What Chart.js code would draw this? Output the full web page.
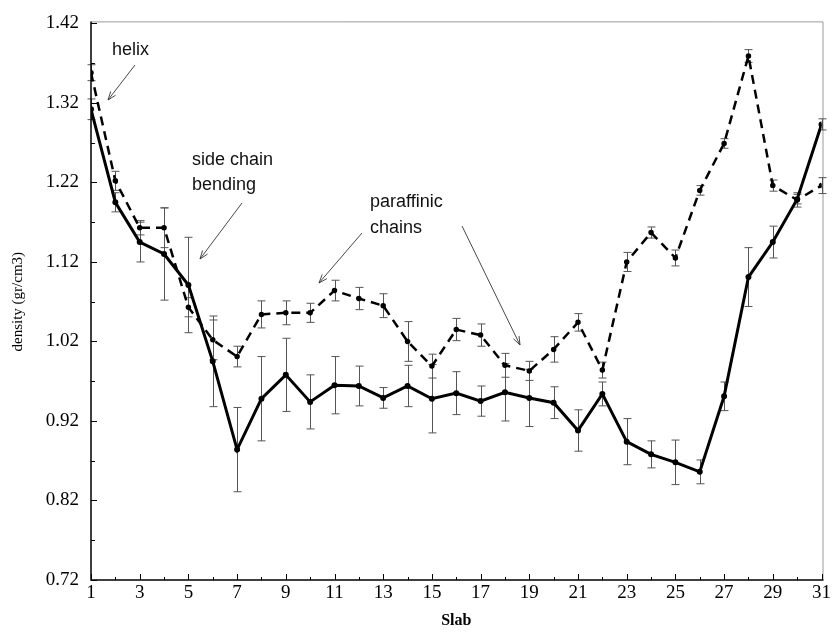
<!DOCTYPE html>
<html>
<head>
<meta charset="utf-8">
<script src="https://cdn.jsdelivr.net/npm/chart.js@4.4.1/dist/chart.umd.min.js"></script>
<style>
  html, body { margin: 0; padding: 0; background: #fff; }
  #wrap { width: 833px; height: 632px; }
</style>
</head>
<body>
<div id="wrap"><canvas id="densityChart" width="833" height="632"></canvas></div>
<script>
'use strict'

// slab index along the membrane normal
var slabs = [1, 2, 3, 4, 5, 6, 7, 8, 9, 10, 11, 12, 13, 14, 15, 16, 17, 18, 19, 20, 21, 22, 23, 24, 25, 26, 27, 28, 29, 30, 31]

// solid curve
var solidDensity = [1.312, 1.195, 1.145, 1.130, 1.091, 0.995, 0.884, 0.948, 0.978, 0.944, 0.965, 0.964, 0.949, 0.964, 0.948, 0.955, 0.945, 0.956, 0.949, 0.943, 0.908, 0.954, 0.894, 0.878, 0.868, 0.856, 0.951, 1.101, 1.145, 1.199, 1.293]
var solidError = [0.013, 0.012, 0.025, 0.058, 0.060, 0.057, 0.053, 0.053, 0.046, 0.034, 0.036, 0.025, 0.013, 0.026, 0.043, 0.027, 0.019, 0.036, 0.036, 0.020, 0.026, 0.015, 0.029, 0.017, 0.028, 0.015, 0.018, 0.037, 0.020, 0.006, 0.007]

// dashed curve
var dashedDensity = [1.358, 1.222, 1.163, 1.163, 1.063, 1.022, 1.001, 1.054, 1.056, 1.056, 1.084, 1.074, 1.065, 1.020, 0.989, 1.035, 1.028, 0.990, 0.983, 1.010, 1.044, 0.984, 1.120, 1.157, 1.125, 1.210, 1.269, 1.379, 1.216, 1.198, 1.216]
var dashedError = [0.010, 0.012, 0.009, 0.025, 0.012, 0.025, 0.013, 0.017, 0.015, 0.012, 0.013, 0.014, 0.015, 0.025, 0.015, 0.014, 0.014, 0.015, 0.012, 0.016, 0.011, 0.010, 0.012, 0.007, 0.010, 0.006, 0.006, 0.008, 0.007, 0.009, 0.010]

// tick labels
var xTicks = [1, 3, 5, 7, 9, 11, 13, 15, 17, 19, 21, 23, 25, 27, 29, 31]
var xMinorTicks = [2, 4, 6, 8, 10, 12, 14, 16, 18, 20, 22, 24, 26, 28, 30]
var yTicks = [0.72, 0.82, 0.92, 1.02, 1.12, 1.22, 1.32, 1.42]
var yMinorTicks = [0.77, 0.87, 0.97, 1.07, 1.17, 1.27, 1.37]

function toPoints(ys) {
    return slabs.map(function (s, i) { return { x: s, y: ys[i] } })
}

//-------------------
//- ERROR BARS, FRAME, TICKS, NOTES -
//-------------------
var extrasPlugin = {
    id: 'extras',
    beforeDatasetsDraw: function (chart) {
        var ctx = chart.ctx
        var xs = chart.scales.x
        var ys = chart.scales.y
        var a = chart.chartArea

        // gray frame on top/right
        ctx.save()
        ctx.strokeStyle = '#9a9a9a'
        ctx.lineWidth = 1
        ctx.beginPath()
        ctx.moveTo(a.left, a.top - 1.5)
        ctx.lineTo(a.right + 1.5, a.top - 1.5)
        ctx.lineTo(a.right + 1.5, a.bottom)
        ctx.stroke()

        // error bars
        ctx.strokeStyle = '#555'
        ctx.lineWidth = 1
        var sets = [[solidDensity, solidError], [dashedDensity, dashedError]]
        sets.forEach(function (set) {
            slabs.forEach(function (s, i) {
                var px = Math.round(xs.getPixelForValue(s)) + 0.5
                var top = ys.getPixelForValue(set[0][i] + set[1][i])
                var bot = ys.getPixelForValue(set[0][i] - set[1][i])
                ctx.beginPath()
                ctx.moveTo(px, top)
                ctx.lineTo(px, bot)
                ctx.moveTo(px - 4, top)
                ctx.lineTo(px + 4, top)
                ctx.moveTo(px - 4, bot)
                ctx.lineTo(px + 4, bot)
                ctx.stroke()
            })
        })

        // axes with inward ticks
        ctx.strokeStyle = '#000'
        ctx.lineWidth = 1.5
        ctx.beginPath()
        ctx.moveTo(a.left, a.top - 2)
        ctx.lineTo(a.left, a.bottom)
        ctx.lineTo(a.right + 2, a.bottom)
        ctx.stroke()
        ctx.lineWidth = 1
        ctx.beginPath()
        yTicks.forEach(function (v) {
            var py = Math.round(ys.getPixelForValue(v)) + 0.5
            ctx.moveTo(a.left, py)
            ctx.lineTo(a.left + 6, py)
        })
        yMinorTicks.forEach(function (v) {
            var py = Math.round(ys.getPixelForValue(v)) + 0.5
            ctx.moveTo(a.left, py)
            ctx.lineTo(a.left + 4, py)
        })
        xTicks.forEach(function (v) {
            var px = Math.round(xs.getPixelForValue(v)) + 0.5
            ctx.moveTo(px, a.bottom)
            ctx.lineTo(px, a.bottom - 6)
        })
        xMinorTicks.forEach(function (v) {
            var px = Math.round(xs.getPixelForValue(v)) + 0.5
            ctx.moveTo(px, a.bottom)
            ctx.lineTo(px, a.bottom - 3)
        })
        ctx.stroke()
        ctx.restore()
    },
    afterDraw: function (chart) {
        var ctx = chart.ctx
        ctx.save()
        ctx.fillStyle = '#111'
        ctx.font = '18px "Liberation Sans", Arial, sans-serif'
        ctx.textBaseline = 'middle'
        ctx.textAlign = 'left'
        ctx.fillText('helix', 112, 50)
        ctx.fillText('side chain', 192, 160)
        ctx.fillText('bending', 192, 185)
        ctx.fillText('paraffinic', 370, 202)
        ctx.fillText('chains', 370, 228)

        var arrows = [
            [135, 65, 108, 100],
            [242, 203, 200, 259],
            [362, 233, 319, 283],
            [462, 226, 520, 345]
        ]
        ctx.strokeStyle = '#333'
        ctx.lineWidth = 0.9
        arrows.forEach(function (ar) {
            var ang = Math.atan2(ar[3] - ar[1], ar[2] - ar[0])
            ctx.beginPath()
            ctx.moveTo(ar[0], ar[1])
            ctx.lineTo(ar[2], ar[3])
            ctx.moveTo(ar[2] - 9 * Math.cos(ang - 0.35), ar[3] - 9 * Math.sin(ang - 0.35))
            ctx.lineTo(ar[2], ar[3])
            ctx.lineTo(ar[2] - 9 * Math.cos(ang + 0.35), ar[3] - 9 * Math.sin(ang + 0.35))
            ctx.stroke()
        })
        ctx.restore()
    }
}

var densityCanvas = document.getElementById('densityChart').getContext('2d')

var densityData = {
    datasets: [{
        label: 'solid',
        data: toPoints(solidDensity),
        borderColor: '#000',
        backgroundColor: '#000',
        borderWidth: 3,
        pointRadius: 1.5,
        tension: 0
    }, {
        label: 'dashed',
        data: toPoints(dashedDensity),
        borderColor: '#000',
        backgroundColor: '#000',
        borderWidth: 2.5,
        borderDash: [9, 6],
        pointRadius: 1.5,
        tension: 0
    }]
}

var serif = '"Liberation Serif", "Times New Roman", serif'

var densityOptions = {
    responsive: false,
    animation: false,
    layout: { padding: { left: 0, top: 20, right: 9, bottom: 0 } },
    plugins: {
        legend: { display: false },
        tooltip: { enabled: false }
    },
    scales: {
        x: {
            type: 'linear',
            min: 1,
            max: 31,
            afterBuildTicks: function (scale) {
                scale.ticks = xTicks.map(function (v) { return { value: v } })
            },
            afterFit: function (scale) { scale.height = 52 },
            grid: { display: false, drawTicks: false },
            border: { display: false },
            ticks: {
                autoSkip: false,
                maxRotation: 0,
                padding: 2,
                color: '#000',
                font: { family: serif, size: 19 }
            },
            title: {
                display: true,
                text: 'Slab',
                color: '#000',
                font: { family: serif, size: 16, weight: 'bold' },
                padding: { top: 0, bottom: 2 }
            }
        },
        y: {
            type: 'linear',
            min: 0.72,
            max: 1.42,
            afterBuildTicks: function (scale) {
                scale.ticks = yTicks.map(function (v) { return { value: v } })
            },
            afterFit: function (scale) { scale.width = 91 },
            grid: { display: false, drawTicks: false },
            border: { display: false },
            ticks: {
                padding: 12,
                color: '#000',
                font: { family: serif, size: 19 },
                callback: function (v) { return v.toFixed(2) }
            },
            title: {
                display: true,
                text: 'density (gr/cm3)',
                color: '#000',
                font: { family: serif, size: 15 },
                padding: { top: 9, bottom: 0 }
            }
        }
    }
}

new Chart(densityCanvas, {
    type: 'line',
    data: densityData,
    options: densityOptions,
    plugins: [extrasPlugin]
})
</script>
</body>
</html>
